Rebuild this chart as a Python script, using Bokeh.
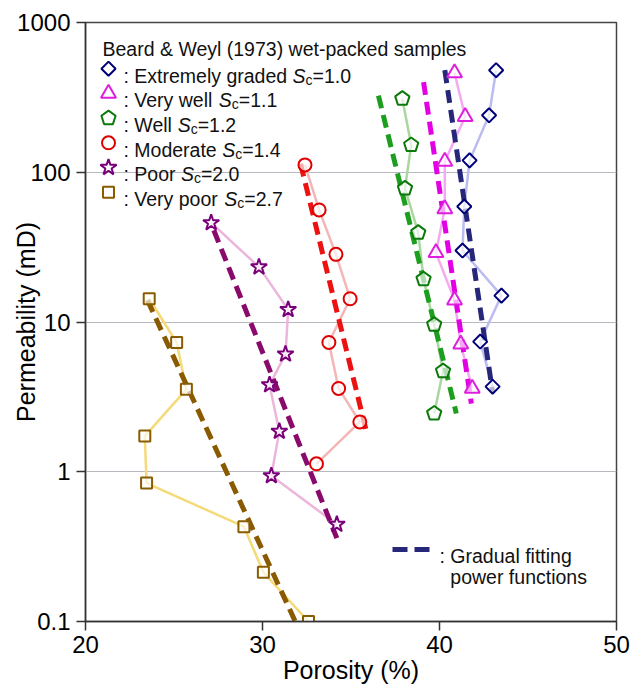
import math
from bokeh.plotting import figure
from bokeh.models import FixedTicker, CustomJSTickFormatter
from bokeh.core.properties import value
from bokeh.embed import file_html
from bokeh.resources import INLINE

# Beard & Weyl (1973) wet-packed samples: porosity (%) vs permeability (mD)
sorting_names = ["Extremely graded", "Very well", "Well", "Moderate", "Poor", "Very poor"]
sorting_sc = ["1.0", "1.1", "1.2", "1.4", "2.0", "2.7"]

por_extremely = [43.2, 42.8, 41.7, 41.4, 41.3, 43.5, 42.3, 43.0]
perm_extremely = [480, 240, 120, 59, 30, 15, 7.4, 3.7]
por_verywell = [40.85, 41.45, 40.3, 40.3, 39.8, 40.85, 41.2, 41.85]
perm_verywell = [460, 235, 118, 57, 29, 14, 7.1, 3.6]
por_well = [37.9, 38.4, 38.05, 38.8, 39.1, 39.7, 40.2, 39.7]
perm_well = [310, 152, 78, 39.5, 19.3, 9.6, 4.7, 2.45]
por_moderate = [32.4, 33.2, 34.15, 34.95, 33.75, 34.3, 35.5, 33.05]
perm_moderate = [112, 56, 28.3, 14.3, 7.3, 3.6, 2.15, 1.13]
por_poor = [27.1, 29.8, 31.45, 31.3, 30.4, 30.95, 30.5, 34.2]
perm_poor = [46, 23.3, 12.1, 6.1, 3.8, 1.86, 0.94, 0.445]
por_verypoor = [23.6, 25.15, 25.7, 23.35, 23.45, 28.95, 30.05, 32.6]
perm_verypoor = [14.3, 7.3, 3.55, 1.73, 0.84, 0.43, 0.213, 0.1]

# gradual fitting power functions (end points of each curve)
fit_por_extremely = [40.3, 43.0]
fit_perm_extremely = [480, 3.4]
fit_por_verywell = [39.1, 41.8]
fit_perm_verywell = [400, 2.85]
fit_por_well = [36.55, 40.95]
fit_perm_well = [325, 2.45]
fit_por_moderate = [32.15, 35.9]
fit_perm_moderate = [114, 1.8]
fit_por_poor = [27.25, 34.2]
fit_perm_poor = [41, 0.36]
fit_por_verypoor = [23.5, 31.85]
fit_perm_verypoor = [14, 0.1]

x_ticks = [20, 30, 40, 50]
y_ticks = [0.1, 1, 10, 100, 1000]

FONT = "Liberation Sans"
L, T, W, H = 85, 22, 531, 599
X0, X1 = 20, 50
Y0, Y1 = 0.1, 1000

p = figure(frame_width=W, frame_height=H, x_range=(X0, X1), y_range=(Y0, Y1),
           y_axis_type="log", output_backend="svg", toolbar_location=None,
           min_border_left=L, min_border_top=T, min_border_right=22, min_border_bottom=64,
           background_fill_color="white", border_fill_color="white")
p.outline_line_color = "#444444"
p.outline_line_width = 1.5

p.xaxis.ticker = FixedTicker(ticks=x_ticks, minor_ticks=[])
p.yaxis.ticker = FixedTicker(ticks=y_ticks, minor_ticks=[])
p.yaxis.formatter = CustomJSTickFormatter(code="return tick < 1 ? tick.toFixed(1) : tick.toFixed(0);")
for ax in (p.xaxis, p.yaxis):
    ax.axis_line_color = "#333333"
    ax.axis_line_width = 1.5
    ax.major_tick_line_color = "#333333"
    ax.major_tick_line_width = 1.5
    ax.major_tick_out = 9
    ax.major_tick_in = 0
    ax.minor_tick_line_color = None
    ax.major_label_text_font = FONT
    ax.major_label_text_font_size = "24px"
    ax.major_label_text_color = "black"
    ax.axis_label_text_font = FONT
    ax.axis_label_text_font_size = "25px"
    ax.axis_label_text_font_style = "normal"
    ax.axis_label_text_color = "black"
p.xaxis.axis_label = "Porosity (%)"
p.yaxis.axis_label = "Permeability (mD)"
p.xaxis.major_label_standoff = 5
p.yaxis.major_label_standoff = 6
p.xaxis.axis_label_standoff = 0
# pull the y title in next to the tick labels (it sits between them vertically)
p.yaxis.axis_label_standoff = -26

p.xgrid.visible = False
p.ygrid.ticker = FixedTicker(ticks=[1, 10, 100], minor_ticks=[])
p.ygrid.grid_line_color = "#b8b8c0"
p.ygrid.grid_line_width = 1.2


def to_px(x, y):
    px = L + (x - X0) * W / (X1 - X0)
    py = T + (math.log10(Y1) - math.log10(y)) * H / (math.log10(Y1) - math.log10(Y0))
    return px, py


def to_data(px, py):
    x = X0 + (px - L) * (X1 - X0) / W
    y = 10 ** (math.log10(Y1) - (py - T) * (math.log10(Y1) - math.log10(Y0)) / H)
    return x, y


def pentagons(xs, ys, r=7.5):
    pxs, pys = [], []
    for x, y in zip(xs, ys):
        cx, cy = to_px(x, y)
        vx, vy = [], []
        for k in range(5):
            a = math.radians(90 + 72 * k)
            dx_, dy_ = to_data(cx + r * math.cos(a), cy - r * math.sin(a))
            vx.append(dx_)
            vy.append(dy_)
        pxs.append(vx)
        pys.append(vy)
    return pxs, pys


series = [
    (por_extremely, perm_extremely, fit_por_extremely, fit_perm_extremely,
     "diamond", 10, "#00007a", "#bcbcf2", "#27277a"),
    (por_verywell, perm_verywell, fit_por_verywell, fit_perm_verywell,
     "triangle", 15, "#dd1fdd", "#f4aaf0", "#e400e4"),
    (por_well, perm_well, fit_por_well, fit_perm_well,
     "pentagon", 0, "#0b7a0b", "#aad6a0", "#1e9e1e"),
    (por_moderate, perm_moderate, fit_por_moderate, fit_perm_moderate,
     "circle", 13, "#e00000", "#f4b6b6", "#ec1212"),
    (por_poor, perm_poor, fit_por_poor, fit_perm_poor,
     "star", 17, "#7a007a", "#ecb6dc", "#8a0a6c"),
    (por_verypoor, perm_verypoor, fit_por_verypoor, fit_perm_verypoor,
     "square", 11, "#8a5c00", "#f4da78", "#8a5a00"),
]


def draw_marker(xs, ys, mk, sz, mc, alpha):
    if mk == "pentagon":
        pxs, pys = pentagons(xs, ys)
        p.patches(pxs, pys, fill_color="white", fill_alpha=alpha,
                  line_color=mc, line_width=2)
    elif mk == "diamond":
        # a square turned on its corner
        p.scatter(xs, ys, marker="square", angle=math.pi / 4, size=sz,
                  fill_color="white", fill_alpha=alpha, line_color=mc, line_width=2)
    else:
        p.scatter(xs, ys, marker=mk, size=sz, fill_color="white",
                  fill_alpha=alpha, line_color=mc, line_width=2)


# thin connecting lines through the measured samples
for por, perm, fpor, fperm, mk, sz, mc, lc, fc in series:
    p.line(por, perm, line_color=lc, line_width=2.5)

# dashed power-function fits
for por, perm, fpor, fperm, mk, sz, mc, lc, fc in series:
    p.line(fpor, fperm, line_color=fc, line_width=5, line_dash="13 7")

# sample markers
for por, perm, fpor, fperm, mk, sz, mc, lc, fc in series:
    draw_marker(por, perm, mk, sz, mc, 0.65)

# ---- legend block drawn as text pieces so that S_c keeps its subscript ----
ARIAL = {":": 278, " ": 278, "E": 667, "x": 500, "t": 278, "r": 333, "e": 556,
         "m": 833, "l": 222, "y": 500, "g": 556, "a": 556, "d": 556, "V": 667,
         "w": 722, "W": 944, "M": 833, "o": 556, "P": 667, "p": 556, "S": 667,
         "c": 500, "=": 584, ".": 278}


def text_width(s, size):
    return sum(ARIAL.get(ch, 556) for ch in s) * size / 1000.0


def put_text(px, py, s, size, style="normal", color="#111111"):
    x, y = to_data(px, py)
    p.text([x], [y], text=[s], text_font=value(FONT), text_font_size=value(f"{size}px"),
           text_font_style=style, text_color=color, text_align="left",
           text_baseline="alphabetic")


LEG = 19.5
put_text(102, 48.5, "Beard & Weyl (1973) wet-packed samples", LEG)

row_base = [75, 99.7, 124.4, 149.1, 173.8, 198.5]
for i, (name, sc) in enumerate(zip(sorting_names, sorting_sc)):
    por, perm, fpor, fperm, mk, sz, mc, lc, fc = series[i]
    base = row_base[i]
    mx, my = to_data(108, base - 6.8)
    draw_marker([mx], [my], mk, sz, mc, 1.0)
    px = 123
    head = ": " + name + " "
    put_text(px, base, head, LEG)
    px += text_width(head, LEG)
    put_text(px, base, "S", LEG, style="italic")
    px += text_width("S", LEG)
    put_text(px, base + 4, "c", 14)
    px += text_width("c", 14)
    put_text(px, base, "=" + sc, LEG)

# fit legend
lx0, ly = to_data(392, 549)
lx1, _ = to_data(431, 549)
p.line([lx0, lx1], [ly, ly], line_color="#27277a", line_width=5, line_dash="15 7")
put_text(439, 555, ": Gradual fitting", LEG)
put_text(439 + text_width(": ", LEG), 576.5, "power functions", LEG)

open("out.html", "w").write(file_html(p, INLINE))
